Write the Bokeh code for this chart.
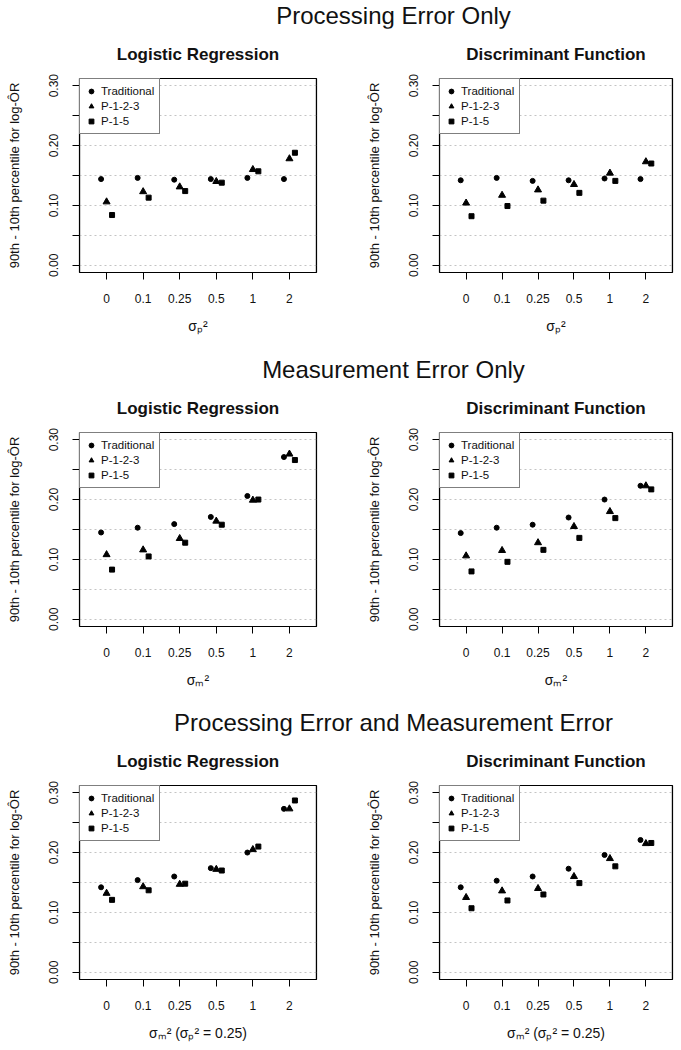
import numpy as np
from bokeh.plotting import figure
from bokeh.models import (ColumnDataSource, FactorRange, Range1d, FixedTicker,
                          Legend, LegendItem, BoxAnnotation)
from bokeh.layouts import column, row
from bokeh.transform import dodge
from bokeh.embed import file_html
from bokeh.resources import INLINE
from bokeh.core.properties import value

# ---------------- data ----------------
variances = ["0", "0.1", "0.25", "0.5", "1", "2"]
methods = ["Traditional", "P-1-2-3", "P-1-5"]

row_titles = ["Processing Error Only", "Measurement Error Only",
              "Processing Error and Measurement Error"]
panel_titles = ["Logistic Regression", "Discriminant Function"]
x_labels = ["σₚ²", "σₘ²", "σₘ² (σₚ² = 0.25)"]
y_label = "90th - 10th percentile for log-O\u0302R"

y_ticks = [0.0, 0.05, 0.10, 0.15, 0.20, 0.25, 0.30]
y_tick_labels = ["0.00", "", "0.10", "", "0.20", "", "0.30"]

# Processing error only
proc_lr_trad = [0.144, 0.146, 0.143, 0.144, 0.146, 0.144]
proc_lr_p123 = [0.106, 0.123, 0.131, 0.140, 0.160, 0.178]
proc_lr_p15 = [0.084, 0.113, 0.124, 0.138, 0.157, 0.188]
proc_df_trad = [0.142, 0.146, 0.141, 0.142, 0.145, 0.144]
proc_df_p123 = [0.104, 0.117, 0.126, 0.135, 0.154, 0.173]
proc_df_p15 = [0.082, 0.099, 0.108, 0.121, 0.141, 0.170]

# Measurement error only
meas_lr_trad = [0.145, 0.153, 0.159, 0.171, 0.206, 0.271]
meas_lr_p123 = [0.108, 0.116, 0.135, 0.164, 0.199, 0.276]
meas_lr_p15 = [0.083, 0.105, 0.128, 0.158, 0.200, 0.266]
meas_df_trad = [0.144, 0.153, 0.158, 0.170, 0.200, 0.223]
meas_df_p123 = [0.106, 0.115, 0.128, 0.155, 0.180, 0.223]
meas_df_p15 = [0.080, 0.096, 0.116, 0.136, 0.169, 0.217]

# Processing error and measurement error
both_lr_trad = [0.142, 0.154, 0.160, 0.174, 0.200, 0.273]
both_lr_p123 = [0.132, 0.143, 0.147, 0.172, 0.205, 0.273]
both_lr_p15 = [0.121, 0.137, 0.148, 0.170, 0.210, 0.287]
both_df_trad = [0.142, 0.153, 0.160, 0.173, 0.196, 0.221]
both_df_p123 = [0.125, 0.136, 0.140, 0.160, 0.190, 0.215]
both_df_p15 = [0.107, 0.120, 0.130, 0.149, 0.177, 0.216]

panels_data = [
    [(proc_lr_trad, proc_lr_p123, proc_lr_p15), (proc_df_trad, proc_df_p123, proc_df_p15)],
    [(meas_lr_trad, meas_lr_p123, meas_lr_p15), (meas_df_trad, meas_df_p123, meas_df_p15)],
    [(both_lr_trad, both_lr_p123, both_lr_p15), (both_df_trad, both_df_p123, both_df_p15)],
]

# ---------------- style / layout ----------------
FONT = "Liberation Sans"
PAGE_W = 681
TITLE_H = 28
BORDER_TOP = 49
PANEL_H = [326, 325, 310]
ROW_TITLE_CENTER = [356, 368, 393]


def title_fig(text, cx):
    f = figure(width=PAGE_W, height=TITLE_H, title=text,
               x_range=Range1d(0, 1), y_range=Range1d(0, 1),
               output_backend="svg", toolbar_location=None,
               x_axis_location=None, y_axis_location=None,
               min_border_left=2 * cx - PAGE_W, min_border_right=0,
               min_border_top=0, min_border_bottom=0,
               outline_line_color=None)
    f.grid.visible = False
    f.title.align = "center"
    f.title.text_font = FONT
    f.title.text_font_size = "24px"
    f.title.text_font_style = "normal"
    f.title.text_color = "#111111"
    f.title.standoff = 0
    return f


def panel(title, xlabel, series, left, h):
    src = ColumnDataSource(dict(x=variances, trad=series[0], p123=series[1], p15=series[2]))
    xr = FactorRange(*variances, range_padding=0.24, range_padding_units="absolute")
    bl = 79 if left else 99
    br = 24 if left else 9
    fw = 237 if left else 233
    p = figure(width=bl + fw + br, height=h, x_range=xr,
               y_range=Range1d(-0.012, 0.312), output_backend="svg",
               toolbar_location=None,
               min_border_left=bl, min_border_right=br,
               min_border_top=BORDER_TOP, min_border_bottom=h - BORDER_TOP - 195)
    p.outline_line_color = "black"
    p.outline_line_width = 1.2
    p.background_fill_color = "white"
    p.border_fill_color = "white"

    p.title.text = title
    p.title.align = "center"
    p.title.text_font = FONT
    p.title.text_font_size = "17px"
    p.title.text_font_style = "bold"
    p.title.text_color = "#111111"
    p.title.standoff = 29

    p.xgrid.visible = False
    p.ygrid.ticker = FixedTicker(ticks=y_ticks)
    p.ygrid.grid_line_color = "#c4c4c4"
    p.ygrid.grid_line_dash = "2 3"
    p.ygrid.grid_line_width = 1.2

    for ax in (p.xaxis[0], p.yaxis[0]):
        ax.axis_line_color = None
        ax.major_tick_in = 0
        ax.major_tick_out = 7
        ax.major_tick_line_color = "black"
        ax.major_tick_line_width = 1
        ax.minor_tick_line_color = None
        ax.major_label_text_font = FONT
        ax.major_label_text_font_size = "12px"
        ax.major_label_text_color = "#111111"
        ax.axis_label_text_font = FONT
        ax.axis_label_text_font_style = "normal"
        ax.axis_label_text_color = "#111111"

    p.yaxis.ticker = FixedTicker(ticks=y_ticks)
    p.yaxis.major_label_overrides = {t: l for t, l in zip(y_ticks, y_tick_labels)}
    p.yaxis.major_label_orientation = "vertical"
    p.yaxis.major_label_standoff = 14
    p.yaxis.axis_label = y_label
    p.yaxis.axis_label_text_font_size = "13px"
    p.yaxis.axis_label_standoff = 25

    p.xaxis.major_label_standoff = 14
    p.xaxis.axis_label = xlabel
    p.xaxis.axis_label_text_font_size = "14px"
    p.xaxis.axis_label_standoff = 12

    r1 = p.scatter(x=dodge("x", -0.15, range=xr), y="trad", source=src,
                   marker="circle", size=5, color="black")
    r2 = p.scatter(x=dodge("x", 0.0, range=xr), y="p123", source=src,
                   marker="triangle", size=7, color="black")
    r3 = p.scatter(x=dodge("x", 0.15, range=xr), y="p15", source=src,
                   marker="square", size=5, color="black")

    p.add_layout(BoxAnnotation(fill_color=None, fill_alpha=0, line_color="black",
                               line_width=1.2, line_alpha=1))

    leg = Legend(items=[LegendItem(label=methods[0], renderers=[r1]),
                        LegendItem(label=methods[1], renderers=[r2]),
                        LegendItem(label=methods[2], renderers=[r3])],
                 location="top_left", margin=0, padding=5, spacing=1,
                 glyph_width=12, glyph_height=14, label_height=13,
                 label_standoff=4, label_text_font=FONT,
                 label_text_font_size="11.5px", label_text_color="#111111",
                 border_line_color="black", border_line_width=1.2,
                 background_fill_color="white", background_fill_alpha=1.0)
    p.add_layout(leg)
    return p


children = []
for i in range(3):
    children.append(title_fig(row_titles[i], ROW_TITLE_CENTER[i]))
    left_p = panel(panel_titles[0], x_labels[i], panels_data[i][0], True, PANEL_H[i])
    right_p = panel(panel_titles[1], x_labels[i], panels_data[i][1], False, PANEL_H[i])
    children.append(row(left_p, right_p))

layout = column(*children)
open("out.html", "w").write(file_html(layout, INLINE))
